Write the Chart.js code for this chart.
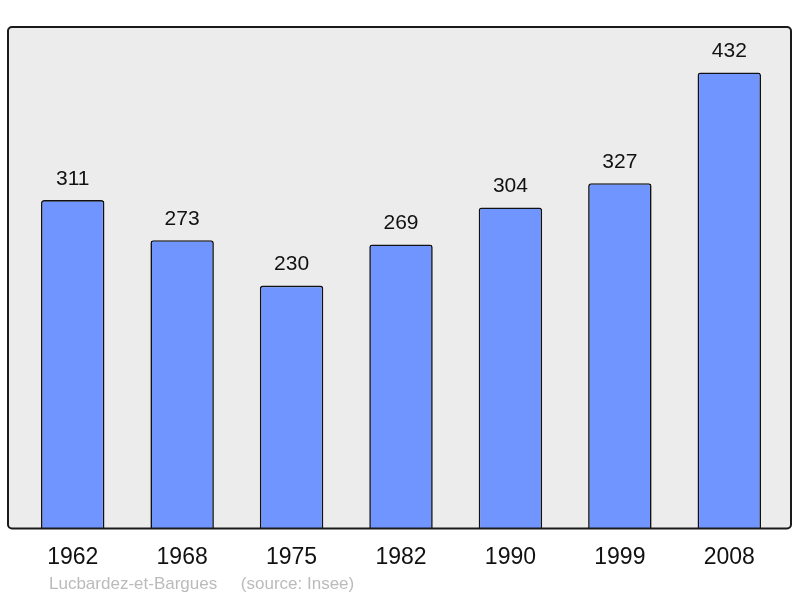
<!DOCTYPE html>
<html>
<head>
<meta charset="utf-8">
<script src="https://cdn.jsdelivr.net/npm/chart.js@4/dist/chart.umd.min.js"></script>
<style>
  html, body { margin: 0; padding: 0; background: #ffffff; }
  #wrap { width: 800px; height: 598px; }
</style>
</head>
<body>
<div id="wrap"><canvas id="popChart" width="800" height="598"></canvas></div>
<script>
const years = ["1962", "1968", "1975", "1982", "1990", "1999", "2008"];
const population = [311, 273, 230, 269, 304, 327, 432];
const commune = "Lucbardez-et-Bargues";
const sourceNote = "(source: Insee)";

const frameAndLabels = {
    id: "frameAndLabels",
    beforeDraw(chart) {
        const ctx = chart.ctx;
        const a = chart.chartArea;
        const x0 = a.left - 10, x1 = a.right + 7;
        ctx.save();
        ctx.beginPath();
        ctx.roundRect(x0, a.top, x1 - x0, a.bottom - a.top, 4);
        ctx.fillStyle = "#ececec";
        ctx.fill();
        ctx.restore();
    },
    afterDatasetsDraw(chart) {
        const ctx = chart.ctx;
        const a = chart.chartArea;
        const x0 = a.left - 10, x1 = a.right + 7;
        ctx.save();
        ctx.beginPath();
        ctx.roundRect(x0, a.top, x1 - x0, a.bottom - a.top, 4);
        ctx.lineWidth = 2;
        ctx.strokeStyle = "#1a1a1a";
        ctx.stroke();

        // values above bars
        ctx.fillStyle = "#111111";
        ctx.font = "21px 'Liberation Sans', Arial, sans-serif";
        ctx.textAlign = "center";
        ctx.textBaseline = "middle";
        const meta = chart.getDatasetMeta(0);
        meta.data.forEach((bar, i) => {
            ctx.fillText(String(population[i]), bar.x, bar.y - 21);
        });

        // footer
        ctx.fillStyle = "#bbbbbb";
        ctx.font = "17px 'Liberation Sans', Arial, sans-serif";
        ctx.textAlign = "left";
        ctx.fillText(commune + "     " + sourceNote, 49, 584);
        ctx.restore();
    }
};

new Chart(document.getElementById("popChart"), {
    type: "bar",
    data: {
        labels: years,
        datasets: [{
            data: population,
            backgroundColor: "#7095ff",
            borderColor: "#111111",
            borderWidth: 1.6,
            borderRadius: { topLeft: 3, topRight: 3 },
            borderSkipped: "bottom",
            categoryPercentage: 1,
            barPercentage: 0.58
        }]
    },
    options: {
        responsive: false,
        animation: false,
        layout: { padding: { left: 18, right: 16, top: 27, bottom: 20 } },
        plugins: {
            legend: { display: false },
            tooltip: { enabled: false }
        },
        scales: {
            x: {
                grid: { display: false },
                border: { display: false },
                ticks: {
                    color: "#111111",
                    font: { family: "'Liberation Sans', Arial, sans-serif", size: 23 },
                    padding: 7
                }
            },
            y: {
                display: false,
                min: 0,
                max: 475
            }
        }
    },
    plugins: [frameAndLabels]
});
</script>
</body>
</html>
